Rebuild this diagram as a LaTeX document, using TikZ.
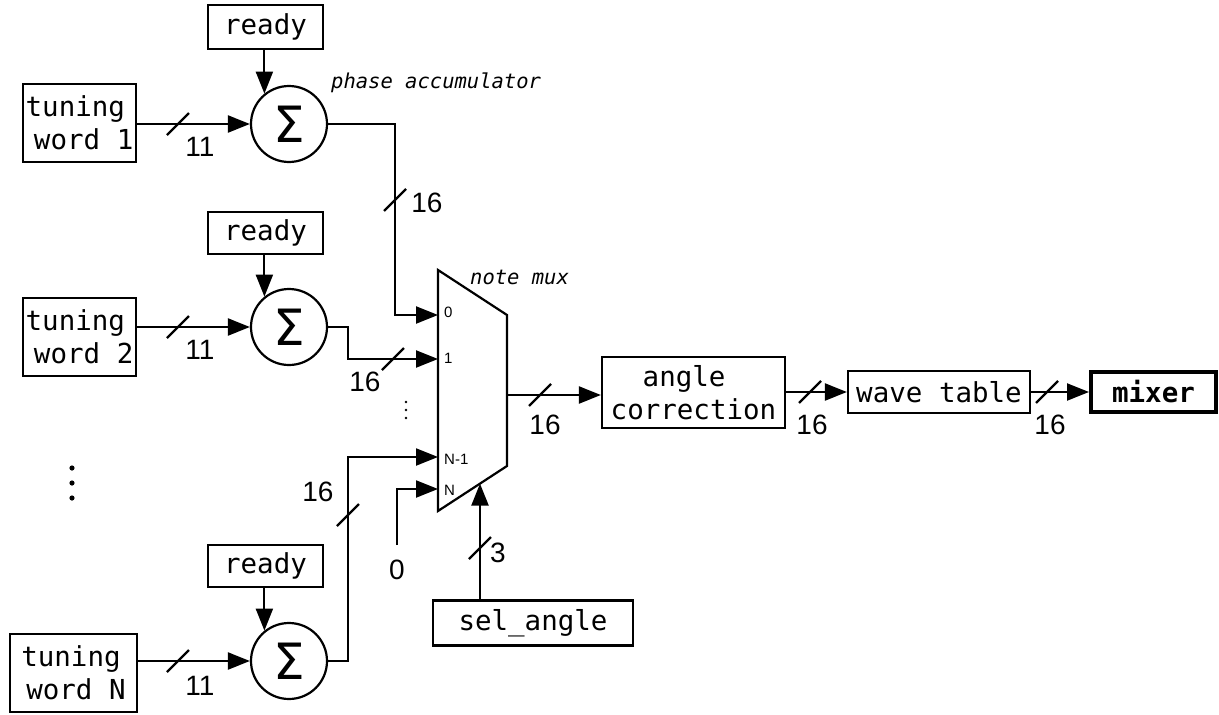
\documentclass[tikz,border=0pt]{standalone}
\usepackage{fontspec}
\setmainfont{Liberation Sans}
\setmonofont{DejaVu Sans Mono}
\newfontfamily\sigfont{DejaVu Sans}
\usetikzlibrary{arrows.meta,calc}
\tikzset{
  wire/.style={line width=2.2pt},
  arr/.style={wire,-{Triangle[length=22pt,width=17pt]}},
  box/.style={draw,line width=2.2pt,font=\fontsize{27.5}{33}\selectfont\ttfamily,inner sep=0pt,align=center},
  tbox/.style={box,align=left,inner xsep=1.5pt,minimum height=78pt},
  sumnode/.style={draw,circle,line width=2.2pt,minimum size=76pt,inner sep=0pt,font=\fontsize{50}{50}\selectfont\sigfont},
  num/.style={font=\fontsize{28}{28}\selectfont,inner sep=0pt},
  notelbl/.style={font=\fontsize{20.5}{20.5}\selectfont\ttfamily\itshape,inner sep=0pt,anchor=west},
  port/.style={font=\fontsize{15}{15}\selectfont,inner sep=0pt,anchor=west},
  bus/.pic={\draw[wire] (-11,11) -- (11,-11);},
}
\begin{document}
\begin{tikzpicture}[x=1pt,y=-1pt]
\useasboundingbox (0,0) rectangle (1219,715);
% row 1
\node[box,minimum width=115pt,minimum height=44pt] (rdy1) at (265.5,27) {ready};
\node[tbox,minimum width=113pt] (tw1) at (79.5,123) {tuning\\\hspace{8.3pt}word 1};
\node[sumnode] (sig1) at (289,124) {Σ};
% row 2
\node[box,minimum width=115pt,minimum height=42pt] (rdy2) at (265.5,233) {ready};
\node[tbox,minimum width=113pt] (tw2) at (79.5,337) {tuning\\\hspace{8.3pt}word 2};
\node[sumnode] (sig2) at (289,327) {Σ};
% row N
\node[tbox,minimum width=127pt] (twN) at (73.5,673) {tuning\\\hspace{5pt}word N};
\node[box,minimum width=115pt,minimum height=42pt] (rdy3) at (265.5,566) {ready};
\node[sumnode] (sigN) at (289,661) {Σ};
% mux
\draw[wire] (438,270) -- (507,315) -- (507,466) -- (438,511) -- cycle;
\coordinate (in0) at (438,315);
\coordinate (in1) at (438,359);
\coordinate (inN1) at (438,457);
\coordinate (inN) at (438,489);
\coordinate (mout) at (507,395);
\coordinate (msel) at (480,483.6);
\node[port] at (444,312) {0};
\node[port] at (444,358) {1};
\node[port] at (444,459) {N-1};
\node[port] at (444,490) {N};
\node[notelbl] at (470,277) {note mux};
\node[notelbl] at (331,83) {phase accumulator};
% right chain
\node[box,minimum width=183pt,minimum height=71pt,align=left] (ang) at (693.5,392.5) {\hspace{32pt}angle\\correction};
\node[box,minimum width=182pt,minimum height=42pt] (wave) at (939,392) {wave table};
\node[box,line width=4pt,minimum width=125pt,minimum height=40pt,font=\fontsize{27.5}{33}\selectfont\ttfamily\bfseries] (mix) at (1153.5,392) {mixer};
\node[box,minimum width=200pt,minimum height=45pt] (sel) at (533,623) {sel\_angle};
% wires row 1
\draw[arr] (tw1.east |- sig1.west) -- (sig1.west);
\draw[arr] (rdy1.south -| sig1.129) -- (sig1.129);
\coordinate (j1) at (395,315);
\draw[arr] (sig1.east) -| (j1) -- (in0);
\pic at (178,124) {bus};
\node[num] at (200,147) {11};
\pic at (395,200) {bus};
\node[num] at (427,203) {16};
% wires row 2
\draw[arr] (tw2.east |- sig2.west) -- (sig2.west);
\draw[arr] (rdy2.south -| sig2.129) -- (sig2.129);
\coordinate (j2) at (348,359);
\draw[arr] (sig2.east) -| (j2) -- (in1);
\pic at (178,327) {bus};
\node[num] at (200,350) {11};
\pic at (393,359) {bus};
\node[num] at (365,382) {16};
% wires row N
\draw[arr] (twN.east |- sigN.west) -- (sigN.west);
\draw[arr] (rdy3.south -| sigN.129) -- (sigN.129);
\coordinate (j3) at (348,457);
\draw[arr] (sigN.east) -| (j3) -- (inN1);
\pic at (178,661) {bus};
\node[num] at (200,686) {11};
\pic at (348,515) {bus};
\node[num] at (318,492) {16};
% zero input
\coordinate (z) at (397,545);
\draw[arr] (z) |- (inN);
\node[num] at (397,570) {0};
% select
\draw[arr] (sel.north -| msel) -- (msel);
\pic at (480,548) {bus};
\node[num] at (498,553) {3};
% output chain
\draw[arr] (mout) -- (ang.west |- mout);
\pic at (540,395) {bus};
\node[num] at (545,425) {16};
\draw[arr] (ang.east |- wave.west) -- (wave.west);
\pic at (810,392) {bus};
\node[num] at (812,425) {16};
\draw[arr] (wave.east) -- (mix.west);
\pic at (1047,392) {bus};
\node[num] at (1050,425) {16};
% dots
\foreach \yy in {402,410,418} \fill (406,\yy) circle (1.3pt);
\foreach \yy in {468,483,498} \fill (72,\yy) circle (2.6pt);
\end{tikzpicture}
\end{document}
